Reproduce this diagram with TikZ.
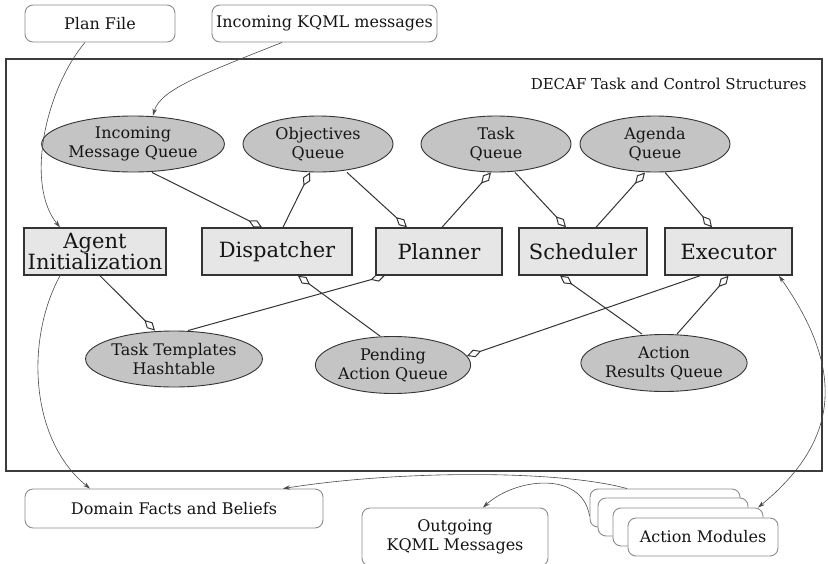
\documentclass[tikz,border=0pt]{standalone}
\usepackage{fontspec}
\setmainfont{DejaVu Serif}
\usetikzlibrary{arrows.meta,shapes.geometric}
\definecolor{edgegray}{HTML}{333333}
\definecolor{thingray}{HTML}{4A4A4A}
\definecolor{qfill}{HTML}{C4C4C4}
\definecolor{pfill}{HTML}{E6E6E6}
\definecolor{framegray}{HTML}{3C3C3C}
\definecolor{softgray}{HTML}{8C8C8C}
\definecolor{inkgray}{HTML}{151515}

\begin{document}
\begin{tikzpicture}[x=1pt,y=-1pt,
  proc/.style={draw=edgegray, line width=1.5pt, fill=pfill, rectangle, inner sep=0pt,
    minimum height=47pt, text=inkgray, font=\fontsize{21}{20}\selectfont, align=center},
  queue/.style={draw=edgegray, line width=0.9pt, fill=qfill, ellipse, inner sep=0pt,
    minimum height=56pt, minimum width=150pt, text=inkgray, font=\fontsize{16}{19}\selectfont, align=center},
  ext/.style={draw=softgray, line width=0.9pt, fill=white, rounded corners=8pt, inner sep=0pt,
    minimum height=37pt, text=inkgray, font=\fontsize{16}{19}\selectfont, align=center},
  flow/.style={draw=edgegray, line width=1pt, -{Diamond[open, length=15pt, width=8pt, line width=1pt]}},
  link/.style={draw=thingray, line width=0.6pt, -{Stealth[length=7pt, width=4.5pt]}},
  twoway/.style={draw=thingray, line width=0.6pt, {Stealth[length=7pt, width=4.5pt]}-{Stealth[length=7pt, width=4.5pt]}},
]
\useasboundingbox (0,0) rectangle (828,563);

% outer frame of the task and control structures
\node[draw=framegray, line width=2.8pt, minimum width=816pt, minimum height=412pt, inner sep=0pt] (frame) at (414,265) {};
\node[anchor=east, font=\fontsize{15}{15}\selectfont, text=inkgray] (title) at (810,84) {DECAF Task and Control Structures};

% external inputs
\node[ext, minimum width=150pt] (pf) at (100,23.5) {Plan File};
\node[ext, minimum width=225pt] (ikm) at (324.5,23.5) {Incoming KQML messages};

% queues
\node[queue, minimum width=144pt] (imq) at (133,144) {Incoming\\Message Queue};
\node[queue] (obj) at (318,144) {Objectives\\Queue};
\node[queue] (tq) at (496,144) {Task\\Queue};
\node[queue] (ag) at (655,144) {Agenda\\Queue};
\node[queue] (tth) at (174,359) {Task Templates\\Hashtable};
\node[queue, minimum height=57pt] (paq) at (393,365) {Pending\\Action Queue};
\node[queue, minimum height=57pt] (arq) at (664,363) {Action\\Results Queue};

% processing components
\node[proc, minimum width=142pt] (ai) at (95,251.5) {Agent\\Initialization};
\node[proc, minimum width=150pt] (disp) at (277,251.5) {Dispatcher};
\node[proc, minimum width=126pt] (plan) at (439,251.5) {Planner};
\node[proc, minimum width=128pt] (sched) at (583,251.5) {Scheduler};
\node[proc, minimum width=127pt] (exec) at (728.5,251.5) {Executor};

% outside stores and modules
\node[ext, minimum width=298pt, minimum height=39pt] (dfb) at (174,508.5) {Domain Facts and Beliefs};
\node[ext, minimum width=186pt, minimum height=58pt] (okq) at (455,537) {Outgoing\\KQML Messages};
\node[ext, minimum width=150pt, minimum height=38pt] (am1) at (665,508) {};
\node[ext, minimum width=150pt, minimum height=38pt] (am2) at (673,517) {};
\node[ext, minimum width=150pt, minimum height=38pt] (am3) at (688,527) {};
\node[ext, minimum width=150pt, minimum height=38pt] (am4) at (703,537) {Action Modules};

% data flow between components and queues
\draw[flow] ([xshift=19pt]imq.south) -- ([xshift=-15pt]disp.north);
\draw[flow] ([xshift=6pt]disp.north) -- ([xshift=-8pt]obj.south);
\draw[flow] ([xshift=29pt]obj.south) -- ([xshift=-32pt]plan.north);
\draw[flow] ([xshift=3pt]plan.north) -- ([xshift=-5pt]tq.south);
\draw[flow] ([xshift=19pt]tq.south) -- ([xshift=-17pt]sched.north);
\draw[flow] ([xshift=13pt]sched.north) -- ([xshift=-10pt]ag.south);
\draw[flow] ([xshift=10pt]ag.south) -- ([xshift=-16.5pt]exec.north);
\draw[flow] ([xshift=5pt]ai.south) -- ([xshift=-19pt]tth.north);
\draw[flow] ([xshift=14pt]tth.north) -- ([xshift=-54pt]plan.south);
\draw[flow] ([xshift=-13pt]paq.north) -- ([xshift=21pt]disp.south);
\draw[flow] ([xshift=-28.5pt]exec.south) -- (paq.7);
\draw[flow] ([xshift=-22pt]arq.north) -- ([xshift=-23pt]sched.south);
\draw[flow] ([xshift=13pt]arq.north) -- (exec.south);

% links to the outside
\draw[link] ([xshift=-15pt]pf.south) .. controls (45,90) and (25,185) .. ([xshift=-35pt]ai.north);
\draw[link] ([xshift=-42.5pt]ikm.south) .. controls (200,75) and (160,90) .. ([xshift=20pt]imq.north);
\draw[link] ([xshift=-35pt]ai.south) .. controls (25,340) and (30,440) .. ([xshift=-84pt]dfb.north);
\draw[twoway] ([xshift=50.5pt]exec.south) .. controls (845,370) and (840,440) .. ([xshift=70pt]am3.north);
\draw[link] ([xshift=-38pt]am1.north) .. controls (560,470) and (400,470) .. ([xshift=109pt]dfb.north);
\draw[link] ([yshift=-8pt]am1.west) .. controls (582,470) and (515,478) .. ([xshift=28pt]okq.north);
\end{tikzpicture}
\end{document}
